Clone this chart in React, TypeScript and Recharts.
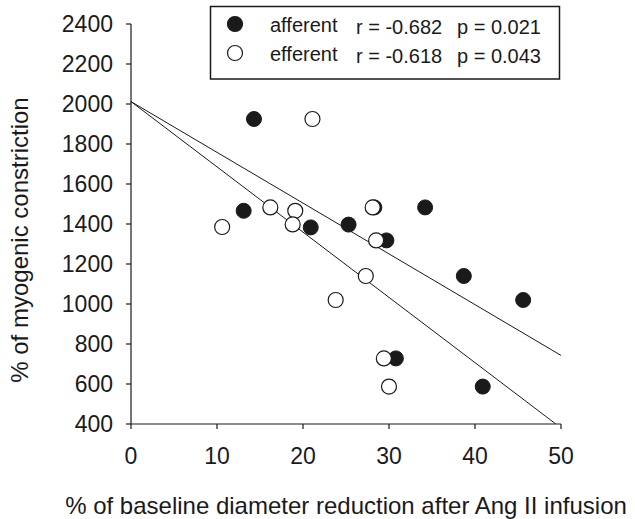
import React from 'react';
import { ScatterChart, Scatter, XAxis, YAxis, Label } from 'recharts';

// ---- data ----
const xTicks = [0, 10, 20, 30, 40, 50];
const yTicks = [400, 600, 800, 1000, 1200, 1400, 1600, 1800, 2000, 2200, 2400];

const afferentX = [14.3, 13.1, 20.9, 25.3, 28.3, 34.2, 29.7, 38.7, 45.6, 30.8, 40.9];
const afferentY = [1925, 1466, 1383, 1397, 1483, 1483, 1318, 1140, 1020, 728, 587];

const efferentX = [21.1, 16.2, 19.1, 10.6, 18.8, 28.1, 28.5, 27.3, 23.8, 29.4, 30.0];
const efferentY = [1925, 1483, 1466, 1385, 1398, 1483, 1318, 1140, 1020, 728, 587];

const afferentFitX = [0, 50];
const afferentFitY = [2012, 743];
const efferentFitX = [0, 49.4];
const efferentFitY = [2012, 400];

const seriesNames = ['afferent', 'efferent'];
const seriesR = ['-0.682', '-0.618'];
const seriesP = ['0.021', '0.043'];

const xTitle = '% of baseline diameter reduction after Ang II infusion';
const yTitle = '% of myogenic constriction';

const zip = (xs: number[], ys: number[]) => xs.map((x, i) => ({ x, y: ys[i] }));

const afferent = zip(afferentX, afferentY);
const efferent = zip(efferentX, efferentY);
const afferentFit = zip(afferentFitX, afferentFitY);
const efferentFit = zip(efferentFitX, efferentFitY);

const FONT = '"Liberation Sans", Arial, Helvetica, sans-serif';
const INK = '#1a1a1a';

const FilledDot = (props: any) => (
  <circle cx={props.cx} cy={props.cy} r={7.5} fill={INK} stroke={INK} strokeWidth={1} />
);
const OpenDot = (props: any) => (
  <circle cx={props.cx} cy={props.cy} r={7.5} fill="#fff" stroke={INK} strokeWidth={1.2} />
);
const NoDot = () => <g />;

const LegendBox = () => (
  <g className="legend-box" fontFamily={FONT}>
    <rect x={210.5} y={6.5} width={349} height={72.5} fill="#fff" stroke={INK} strokeWidth={1.5} />
    {seriesNames.map((name, i) => {
      const cy = i === 0 ? 24 : 53;
      return (
        <g key={name} fill={INK}>
          <circle
            cx={235}
            cy={cy}
            r={7.5}
            fill={i === 0 ? INK : '#fff'}
            stroke={INK}
            strokeWidth={1.2}
          />
          <text x={270} y={cy + 8} fontSize={20} fill={INK}>
            {name}
          </text>
          <text x={356} y={cy + 10} fontSize={20} fill={INK}>
            {`r = ${seriesR[i]}`}
          </text>
          <text x={457} y={cy + 10} fontSize={20} fill={INK}>
            {`p = ${seriesP[i]}`}
          </text>
        </g>
      );
    })}
  </g>
);

export default function App() {
  return (
    <div style={{ position: 'fixed', top: 0, left: 0, width: 635, height: 519, background: '#fff' }}>
      <ScatterChart
        width={635}
        height={519}
        margin={{ top: 24, right: 74, bottom: 0, left: 0 }}
        style={{ fontFamily: FONT }}
      >
        <XAxis
          type="number"
          dataKey="x"
          domain={[0, 50]}
          ticks={xTicks}
          allowDataOverflow
          height={95}
          tickSize={5}
          tickMargin={19}
          axisLine={{ stroke: INK, strokeWidth: 1.2 }}
          tickLine={{ stroke: INK, strokeWidth: 1.2 }}
          tick={{ fill: INK, fontSize: 23, fontFamily: FONT }}
        >
          <Label
            value={xTitle}
            position="insideBottom"
            offset={5}
            style={{ fill: INK, fontSize: 24, fontFamily: FONT }}
          />
        </XAxis>
        <YAxis
          type="number"
          dataKey="y"
          domain={[400, 2400]}
          ticks={yTicks}
          allowDataOverflow
          width={131}
          tickSize={5}
          tickMargin={13}
          axisLine={{ stroke: INK, strokeWidth: 1.2 }}
          tickLine={{ stroke: INK, strokeWidth: 1.2 }}
          tick={{ fill: INK, fontSize: 23, fontFamily: FONT }}
        >
          <Label
            content={() => (
              <text
                x={19}
                y={240}
                transform="rotate(-90 19 240)"
                textAnchor="middle"
                dominantBaseline="central"
                fill={INK}
                fontSize={24}
                fontFamily={FONT}
              >
                {yTitle}
              </text>
            )}
          />
        </YAxis>
        <Scatter
          name="afferent fit"
          data={afferentFit}
          line={{ stroke: INK, strokeWidth: 1 }}
          shape={NoDot}
          isAnimationActive={false}
        />
        <Scatter
          name="efferent fit"
          data={efferentFit}
          line={{ stroke: INK, strokeWidth: 1 }}
          shape={NoDot}
          isAnimationActive={false}
        />
        <Scatter name="afferent" data={afferent} shape={FilledDot} isAnimationActive={false} />
        <Scatter name="efferent" data={efferent} shape={OpenDot} isAnimationActive={false} />
        <LegendBox />
      </ScatterChart>
    </div>
  );
}
